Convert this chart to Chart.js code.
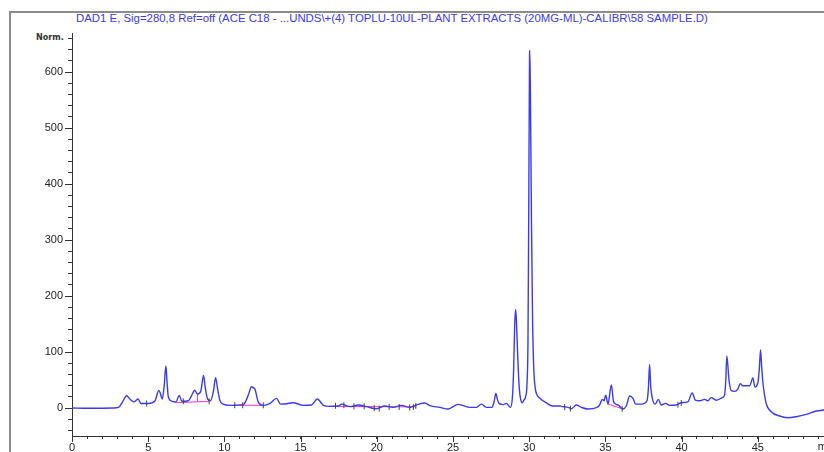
<!DOCTYPE html>
<html>
<head>
<meta charset="utf-8">
<script src="https://cdn.jsdelivr.net/npm/chart.js@4.4.1/dist/chart.umd.min.js"></script>
<style>
  html, body { margin: 0; padding: 0; background: #fff; overflow: hidden; }
  #wrap { position: relative; width: 824px; height: 452px; overflow: hidden; }
  #frame { position: absolute; left: 9px; top: 11px; width: 900px; height: 500px;
           border-left: 2px solid #8c8c8c; border-top: 2px solid #8c8c8c; }
  #title { position: absolute; left: 76px; top: 12px; font: 11.4px "Liberation Sans", Arial, sans-serif;
           color: #3a3af0; white-space: nowrap; }
  #unit { position: absolute; left: 36px; top: 32px; font: bold 9px "DejaVu Sans Condensed", "Liberation Sans Narrow", sans-serif;
          color: #333; }
  canvas { position: absolute; left: 0; top: 0; }
</style>
</head>
<body>
<div id="wrap">
  <div id="frame"></div>
  <div id="title">DAD1 E, Sig=280,8 Ref=off (ACE C18 - ...UNDS\+(4) TOPLU-10UL-PLANT EXTRACTS (20MG-ML)-CALIBR\58 SAMPLE.D)</div>
  <div id="unit">Norm.</div>
  <canvas id="myChart" width="860" height="452"></canvas>
</div>
<script>
// Chromatogram trace (retention time in min, signal in mAU)
const times = [
  0, 1.0, 2.0, 2.7, 3.05, 3.3, 3.59, 3.8, 4.06, 4.34, 4.52, 5.0, 5.44, 5.7, 5.8, 5.92,
  6.05, 6.16, 6.24, 6.32, 6.53, 6.82, 7.04, 7.21, 7.63, 7.9, 8.04, 8.24, 8.45, 8.63, 8.75,
  8.9, 9.09, 9.28, 9.42, 9.55, 9.7, 9.92, 10.36, 11.24, 11.56, 11.78, 11.9, 12.0, 12.22,
  12.55, 13.0, 13.42, 13.68, 14.08, 14.5, 15.16, 15.7, 16.1, 16.5, 16.9, 17.5, 17.68,
  18.23, 18.78, 19.32, 19.98, 20.52, 21.07, 21.62, 22.16, 22.71, 23.15, 23.48, 24.13,
  24.68, 25.34, 25.67, 26.1, 26.54, 26.86, 27.19, 27.56, 27.7, 27.81, 27.92, 28.02,
  28.29, 28.5, 28.77, 28.9, 28.98, 29.05, 29.11, 29.17, 29.25, 29.35, 29.45, 29.55,
  29.65, 29.77, 29.85, 29.92, 29.97, 30.02, 30.04, 30.08, 30.15, 30.22, 30.3, 30.4,
  30.5, 30.68, 31.1, 31.56, 32.0, 32.2, 32.55, 32.77, 33.09, 33.42, 33.86, 34.41,
  34.62, 34.8, 34.91, 35.02, 35.17, 35.39, 35.54, 35.83, 36.15, 36.37, 36.59, 36.81,
  36.98, 37.36, 37.73, 37.82, 37.9, 37.97, 38.08, 38.27, 38.47, 38.67, 38.95, 39.21,
  39.65, 39.98, 40.41, 40.7, 40.9, 41.18, 41.51, 41.73, 41.94, 42.27, 42.67, 42.82,
  42.9, 42.97, 43.11, 43.26, 43.47, 43.69, 43.85, 44.02, 44.46, 44.68, 44.81, 45.0,
  45.1, 45.18, 45.25, 45.33, 45.55, 45.88, 46.43, 46.97, 47.52, 48.18, 48.83, 49.31, 50
];
const signal = [
  0, -0.5, -0.3, 0, 1, 10, 22, 16, 11, 16, 8, 8, 12.5, 31.5, 26, 16,
  40, 75, 45, 20, 12.5, 11, 22.6, 12, 13, 25, 32, 25, 30, 58, 35,
  16, 13, 30, 54, 35, 14, 7, 4.8, 6, 22.6, 38, 36, 34, 11,
  4.8, 8.3, 17.3, 7, 7.7, 9.5, 4.8, 5.4, 16, 4.8, 3, 3.6, 7,
  2.4, 5.4, 2.4, -1.2, 3.6, 1.2, 4.8, 1.2, 6.5, 8.9, 4.2, 1.2,
  -1.8, 6.5, 4.2, 1.2, 1.2, 7, 1.2, 1.2, 12, 26, 15, 8.3,
  6, 8.3, 1.2, 20, 70, 150, 176, 150, 90, 35, 14, 9.5,
  14, 21, 40, 120, 350, 620, 639, 560, 330, 160, 70, 35,
  24, 18, 9.5, 3.6, 3.6, 2.4, 1.2, -1.2, 5.4, 1.2, -1.8, 0.6,
  5.4, 15.5, 13, 23, 7, 41, 11, 5.4, -1.8, 3.6, 21.4, 17.3,
  7, 7, 13, 35, 78, 40, 17.3, 7, 15.5, 5.4, 8.3, 4.8,
  5.4, 9.5, 11, 27, 14, 13, 15.5, 13, 18.5, 14, 18.5, 23,
  50, 93, 50, 31, 29.8, 33.9, 43.5, 39.9, 39.9, 53.6, 37.5, 44.6,
  70, 103.6, 75, 47, 8.3, -6.5, -14.3, -17.3, -15.5, -11.3, -5.4, -3.6, -2
];

// Integration event marks
const markTimes = [4.9, 7.3, 9.0, 10.68, 11.2, 12.55, 17.29, 17.84, 18.5, 19.17, 19.83, 20.16,
  20.81, 21.47, 22.16, 22.4, 22.56, 32.33, 32.7, 36.1, 39.76, 39.98];
const markValues = [8, 12, 12, 5, 5, 4.8, 4, 5, 3, 3, 0, -1, 2, 2, 1, 2, 4, 1.5, -1, -1.5, 6, 9];

// Baseline segments drawn by the integrator
const baseline1 = [{x: 6.76, y: 9.5}, {x: 9.0, y: 11.9}];
const baseline2 = [{x: 10.68, y: 4.8}, {x: 12.55, y: 4.8}];
const baseline3 = [{x: 35.17, y: 7}, {x: 36.1, y: -1.2}];
const baseline4 = [{x: 17.0, y: 3}, {x: 22.6, y: 2}];
const dropLine = [{x: 8.24, y: 11}, {x: 8.24, y: 25}];

const xTickValues = [];
for (let v = 0; v <= 50; v += 1) xTickValues.push(v);
const yTickValues = [];
for (let v = -40; v <= 660; v += 20) yTickValues.push(v);

const trace = times.map((t, i) => ({x: t, y: signal[i]}));
const marks = markTimes.map((t, i) => ({x: t, y: markValues[i]}));

const magenta = '#ff33dd';
function seg(d) {
  return {data: d, borderColor: magenta, borderWidth: 1, pointRadius: 0, tension: 0, order: 2};
}

// Longer tick marks at the labelled values, plus the "min" unit label
const majorTicks = {
  id: 'majorTicks',
  afterDraw(chart) {
    const c = chart.ctx, xs = chart.scales.x, ys = chart.scales.y, a = chart.chartArea;
    c.save();
    c.strokeStyle = '#333';
    c.lineWidth = 1;
    c.beginPath();
    for (let v = 0; v <= 600; v += 100) {
      const py = Math.round(ys.getPixelForValue(v)) + 0.5;
      c.moveTo(a.left - 7, py); c.lineTo(a.left, py);
    }
    for (let v = 0; v <= 50; v += 5) {
      const px = Math.round(xs.getPixelForValue(v)) + 0.5;
      c.moveTo(px, a.bottom); c.lineTo(px, a.bottom + 6);
    }
    c.stroke();
    c.fillStyle = '#222';
    c.font = '11px "Liberation Sans"';
    c.textBaseline = 'top';
    c.fillText('min', xs.getPixelForValue(49) - 1, a.bottom + 5);
    c.restore();
  }
};

const ctx = document.getElementById('myChart').getContext('2d');
new Chart(ctx, {
  type: 'line',
  data: {
    datasets: [
      {
        data: trace,
        borderColor: '#3a3af5',
        borderWidth: 1.4,
        pointRadius: 0,
        cubicInterpolationMode: 'monotone',
        order: 1
      },
      seg(baseline1), seg(baseline2), seg(baseline3), seg(baseline4), seg(dropLine),
      {
        type: 'scatter',
        data: marks,
        pointStyle: 'line',
        rotation: 90,
        radius: 3,
        borderColor: '#444',
        borderWidth: 1,
        order: 0
      }
    ]
  },
  options: {
    responsive: false,
    animation: false,
    layout: { padding: { top: 33, right: 26, left: 0, bottom: 0 } },
    scales: {
      x: {
        type: 'linear',
        min: 0,
        max: 50,
        afterBuildTicks: s => { s.ticks = xTickValues.map(v => ({value: v})); },
        afterFit: s => { s.height = 16; },
        border: { color: '#333', width: 1 },
        grid: { drawOnChartArea: false, tickLength: 3, tickColor: '#333' },
        ticks: {
          autoSkip: false,
          maxRotation: 0,
          padding: 2,
          color: '#222',
          font: { family: 'Liberation Sans', size: 11 },
          callback: v => (v % 5 === 0 && v < 50 ? String(v) : '')
        }
      },
      y: {
        min: -50,
        max: 670,
        afterBuildTicks: s => { s.ticks = yTickValues.map(v => ({value: v})); },
        afterFit: s => { s.width = 72; },
        border: { color: '#333', width: 1 },
        grid: { drawOnChartArea: false, tickLength: 4, tickColor: '#333' },
        ticks: {
          autoSkip: false,
          padding: 5,
          color: '#222',
          font: { family: 'Liberation Sans', size: 11 },
          callback: v => (v % 100 === 0 && v >= 0 && v <= 600 ? String(v) : '')
        }
      }
    },
    plugins: {
      legend: { display: false },
      tooltip: { enabled: false }
    }
  },
  plugins: [majorTicks]
});
</script>
</body>
</html>
